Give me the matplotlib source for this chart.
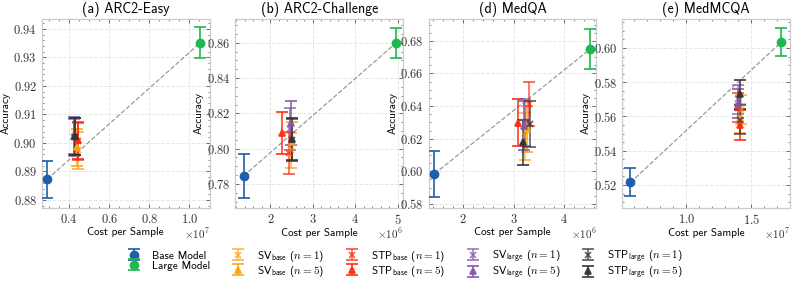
import numpy as np
import matplotlib
matplotlib.use('Agg')
import matplotlib.pyplot as plt
from matplotlib.ticker import FuncFormatter

plt.rcParams['font.family'] = ['cmss10', 'DejaVu Sans']
plt.rcParams['mathtext.fontset'] = 'cm'
plt.rcParams['axes.unicode_minus'] = False

titles = ['(a) ARC2-Easy', '(b) ARC2-Challenge', '(d) MedQA', '(e) MedMCQA']
scales = [1e7, 1e6, 1e6, 1e7]

# base / large model: cost, accuracy, error
base_cost = [0.29e7, 1.37e6, 1.43e6, 0.57e7]
base_acc = [0.8872, 0.7845, 0.5984, 0.5215]
base_err = [0.0065, 0.0125, 0.014, 0.0082]
large_cost = [1.055e7, 4.96e6, 4.52e6, 1.73e7]
large_acc = [0.9352, 0.8600, 0.6750, 0.6035]
large_err = [0.0053, 0.0085, 0.0125, 0.0082]

# order: SVb1, SVb5, STPb1, STPb5, SVl1, SVl5, STPl1, STPl5
method_labels = [r'SV$_{\mathsf{base}}$ ($n=1$)', r'SV$_{\mathsf{base}}$ ($n=5$)',
                 r'STP$_{\mathsf{base}}$ ($n=1$)', r'STP$_{\mathsf{base}}$ ($n=5$)',
                 r'SV$_{\mathsf{large}}$ ($n=1$)', r'SV$_{\mathsf{large}}$ ($n=5$)',
                 r'STP$_{\mathsf{large}}$ ($n=1$)', r'STP$_{\mathsf{large}}$ ($n=5$)']
method_cost = [
    [0.445e7, 0.44e7, 0.445e7, 0.445e7, 0.425e7, 0.425e7, 0.43e7, 0.43e7],
    [2.48e6, 2.50e6, 2.45e6, 2.27e6, 2.47e6, 2.48e6, 2.50e6, 2.52e6],
    [3.23e6, 3.26e6, 3.30e6, 3.08e6, 3.22e6, 3.20e6, 3.32e6, 3.18e6],
    [1.42e7, 1.41e7, 1.40e7, 1.41e7, 1.40e7, 1.40e7, 1.41e7, 1.41e7],
]
method_acc = [
    [0.8975, 0.8985, 0.9005, 0.9010, 0.9020, 0.9025, 0.9021, 0.9023],
    [0.7990, 0.8040, 0.7975, 0.8090, 0.8110, 0.8145, 0.8050, 0.8055],
    [0.6215, 0.6260, 0.6415, 0.6297, 0.6300, 0.6280, 0.6290, 0.6177],
    [0.5640, 0.5590, 0.5650, 0.5550, 0.5700, 0.5675, 0.5580, 0.5730],
]
method_err = [
    [0.0065, 0.0065, 0.0065, 0.0065, 0.0065, 0.0065, 0.0065, 0.0065],
    [0.0100, 0.0110, 0.0120, 0.0120, 0.0120, 0.0125, 0.0120, 0.0120],
    [0.0145, 0.0140, 0.0135, 0.0145, 0.0145, 0.0150, 0.0140, 0.0137],
    [0.0085, 0.0085, 0.0085, 0.0085, 0.0085, 0.0085, 0.0085, 0.0085],
]
method_colors = ['#ffa31a', '#ffa31a', '#ff2b0f', '#ff2b0f',
                 '#8358a8', '#8358a8', '#333333', '#333333']
method_markers = ['x', '^', 'x', '^', 'x', '^', 'x', '^']

xlims = [(0.265, 1.10), (1.18, 5.12), (1.32, 4.64), (0.508, 1.795)]
ylims = [(0.8772, 0.9435), (0.7664, 0.8736), (0.5775, 0.6935), (0.5066, 0.617)]
xticks = [[0.4, 0.6, 0.8, 1.0], [2, 3, 4, 5], [2, 3, 4], [1.0, 1.5]]
yticks = [np.arange(0.88, 0.945, 0.01), np.arange(0.78, 0.87, 0.02),
          np.arange(0.58, 0.69, 0.02), np.arange(0.52, 0.61, 0.02)]
xfmt = ['%.1f', '%d', '%d', '%.1f']
yfmt = ['%.2f', '%.2f', '%.2f', '%.2f']

fig, axes = plt.subplots(1, 4, figsize=(7.93, 2.86), dpi=100)
fig.subplots_adjust(left=0.053, right=0.996, top=0.934, bottom=0.273, wspace=0.155)

handles = []
for i, ax in enumerate(axes):
    s = scales[i]
    bx, lx = base_cost[i] / s, large_cost[i] / s
    ax.plot([bx, lx], [base_acc[i], large_acc[i]], '--', color='#9a9a9a', lw=0.9, zorder=1)
    h1 = ax.errorbar(bx, base_acc[i], yerr=base_err[i], fmt='o', color='#1f5ea8',
                     ms=6, capsize=4, elinewidth=1.2, capthick=1.2, zorder=3, label='Base Model')
    h2 = ax.errorbar(lx, large_acc[i], yerr=large_err[i], fmt='o', color='#1dba4c',
                     ms=6, capsize=4, elinewidth=1.2, capthick=1.2, zorder=3, label='Large Model')
    hs = [h1, h2]
    for j in range(len(method_labels)):
        a = 0.75 if method_markers[j] == 'x' else 0.9
        h = ax.errorbar(method_cost[i][j] / s, method_acc[i][j], yerr=method_err[i][j],
                        fmt=method_markers[j], color=method_colors[j], ms=5, mew=1.3,
                        capsize=4, elinewidth=1.2, capthick=1.2, alpha=a, zorder=2,
                        label=method_labels[j])
        hs.append(h)
    if i == 0:
        handles = hs

    ax.set_xlim(xlims[i])
    ax.set_ylim(ylims[i])
    ax.set_xticks(xticks[i])
    ax.set_yticks(yticks[i])
    ax.xaxis.set_major_formatter(FuncFormatter(lambda v, p, f=xfmt[i]: '$' + (f % v) + '$'))
    ax.yaxis.set_major_formatter(FuncFormatter(lambda v, p, f=yfmt[i]: '$' + (f % v) + '$'))
    ax.minorticks_on()
    ax.tick_params(which='both', direction='in', top=True, right=True, colors='#555555',
                   labelcolor='#333333', labelsize=9)
    ax.tick_params(which='major', length=3, width=0.6)
    ax.tick_params(which='minor', length=1.5, width=0.5)
    ax.grid(True, which='major', ls='--', color='#e6e6e6', lw=0.7)
    ax.set_axisbelow(True)
    for sp in ax.spines.values():
        sp.set_color('#cccccc')
        sp.set_linewidth(0.9)
    ax.set_title(titles[i], fontsize=10, pad=4)
    ax.set_xlabel('Cost per Sample', fontsize=8, labelpad=1)
    ax.set_ylabel('Accuracy', fontsize=8, labelpad=2)
    exp = int(round(np.log10(s)))
    ax.text(1.0, -0.095, r'$\times10^{%d}$' % exp, transform=ax.transAxes,
            ha='right', va='top', fontsize=8, color='#333333')

fig.legend(handles=handles, labels=[h.get_label() for h in handles], loc='center',
           bbox_to_anchor=(0.51, 0.075), ncol=5, frameon=False, fontsize=8,
           handlelength=1.4, handleheight=0.8, columnspacing=1.8, labelspacing=0.0,
           handletextpad=1.0)

plt.savefig('out.png', dpi=100)
